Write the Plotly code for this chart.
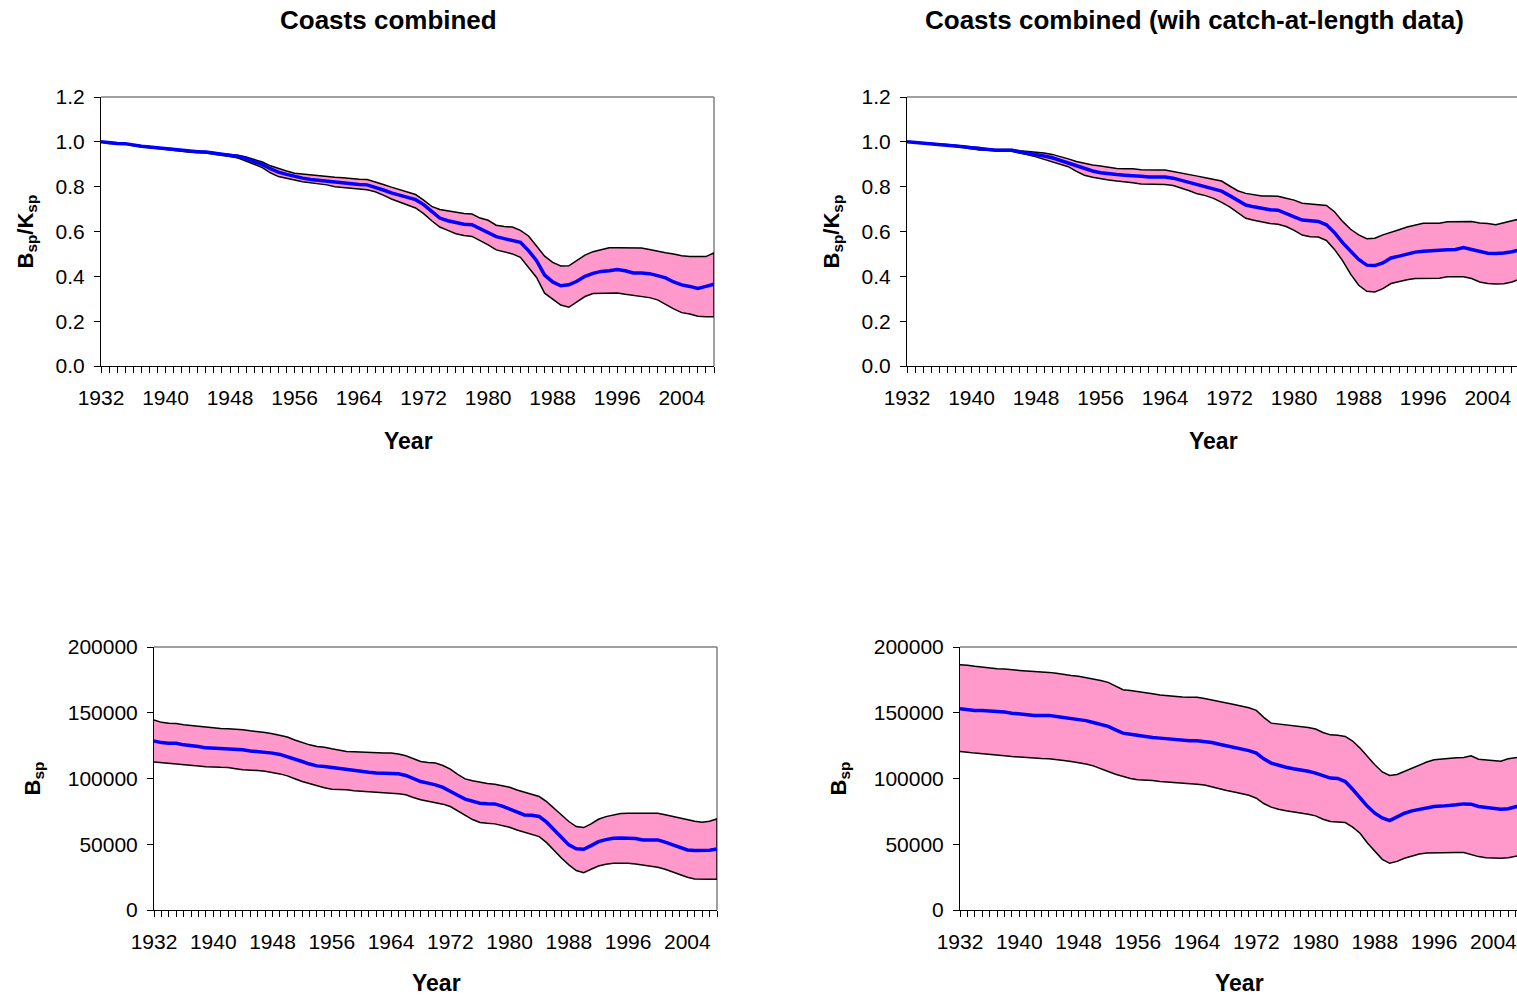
import plotly.graph_objects as go

# Spawning biomass trajectories, 1932-2008: median and confidence band
years = list(range(1932, 2009))

# Relative spawning biomass B_sp/K_sp, coasts combined
rel_med = [1.000, 0.995, 0.993, 0.992, 0.985, 0.980, 0.977, 0.973, 0.970, 0.966,
           0.962, 0.958, 0.956, 0.955, 0.950, 0.943, 0.940, 0.935, 0.925, 0.912,
           0.898, 0.880, 0.865, 0.855, 0.845, 0.838, 0.832, 0.828, 0.825, 0.820,
           0.817, 0.815, 0.810, 0.808, 0.798, 0.785, 0.772, 0.760, 0.752, 0.742,
           0.720, 0.690, 0.660, 0.648, 0.640, 0.632, 0.630, 0.612, 0.595, 0.577,
           0.568, 0.560, 0.552, 0.515, 0.470, 0.405, 0.375, 0.358, 0.362, 0.378,
           0.400, 0.413, 0.422, 0.425, 0.430, 0.425, 0.415, 0.415, 0.412, 0.403,
           0.393, 0.375, 0.362, 0.355, 0.346, 0.355, 0.365]
rel_hi = [1.000, 0.997, 0.995, 0.994, 0.987, 0.982, 0.979, 0.975, 0.972, 0.968,
          0.964, 0.960, 0.960, 0.958, 0.953, 0.947, 0.945, 0.940, 0.932, 0.922,
          0.910, 0.893, 0.880, 0.870, 0.860, 0.856, 0.852, 0.848, 0.845, 0.842,
          0.840, 0.835, 0.833, 0.832, 0.822, 0.810, 0.798, 0.788, 0.778, 0.765,
          0.740, 0.712, 0.698, 0.692, 0.686, 0.680, 0.678, 0.660, 0.650, 0.628,
          0.622, 0.620, 0.605, 0.580, 0.535, 0.490, 0.462, 0.446, 0.447, 0.470,
          0.495, 0.510, 0.520, 0.527, 0.527, 0.527, 0.527, 0.526, 0.520, 0.512,
          0.505, 0.500, 0.492, 0.488, 0.488, 0.488, 0.505]
rel_lo = [1.000, 0.993, 0.991, 0.990, 0.982, 0.977, 0.974, 0.970, 0.967, 0.963,
          0.958, 0.954, 0.951, 0.950, 0.945, 0.938, 0.934, 0.928, 0.915, 0.900,
          0.885, 0.862, 0.845, 0.837, 0.830, 0.822, 0.815, 0.812, 0.808, 0.800,
          0.796, 0.793, 0.790, 0.786, 0.777, 0.762, 0.745, 0.730, 0.718, 0.705,
          0.680, 0.648, 0.620, 0.605, 0.590, 0.582, 0.578, 0.560, 0.540, 0.518,
          0.510, 0.500, 0.485, 0.440, 0.395, 0.325, 0.300, 0.272, 0.262, 0.285,
          0.310, 0.323, 0.326, 0.326, 0.326, 0.320, 0.312, 0.310, 0.305, 0.295,
          0.275, 0.255, 0.238, 0.232, 0.222, 0.220, 0.220]

# Relative spawning biomass, with catch-at-length data
rel_cal_med = [1.000, 0.997, 0.995, 0.994, 0.991, 0.987, 0.983, 0.978, 0.974, 0.970,
               0.965, 0.963, 0.963, 0.962, 0.955, 0.950, 0.944, 0.937, 0.929, 0.917,
               0.903, 0.890, 0.880, 0.870, 0.862, 0.857, 0.854, 0.851, 0.850, 0.846,
               0.843, 0.843, 0.843, 0.838, 0.828, 0.818, 0.810, 0.800, 0.790, 0.780,
               0.760, 0.738, 0.718, 0.710, 0.702, 0.697, 0.695, 0.682, 0.665, 0.651,
               0.647, 0.645, 0.630, 0.595, 0.550, 0.510, 0.475, 0.450, 0.448, 0.460,
               0.482, 0.490, 0.500, 0.508, 0.512, 0.515, 0.518, 0.519, 0.520, 0.528,
               0.520, 0.510, 0.503, 0.502, 0.504, 0.510, 0.518]
rel_cal_hi = [1.000, 0.998, 0.996, 0.995, 0.992, 0.988, 0.985, 0.980, 0.977, 0.975,
              0.968, 0.966, 0.966, 0.966, 0.960, 0.957, 0.954, 0.950, 0.944, 0.935,
              0.924, 0.912, 0.903, 0.897, 0.892, 0.886, 0.881, 0.880, 0.880, 0.876,
              0.874, 0.874, 0.874, 0.868, 0.860, 0.853, 0.847, 0.840, 0.832, 0.825,
              0.803, 0.782, 0.770, 0.763, 0.758, 0.758, 0.757, 0.748, 0.740, 0.726,
              0.722, 0.720, 0.716, 0.688, 0.645, 0.610, 0.585, 0.568, 0.570, 0.585,
              0.598, 0.608, 0.620, 0.630, 0.637, 0.637, 0.637, 0.644, 0.645, 0.645,
              0.645, 0.638, 0.636, 0.630, 0.640, 0.648, 0.656]
rel_cal_lo = [1.000, 0.996, 0.994, 0.993, 0.989, 0.985, 0.980, 0.975, 0.970, 0.964,
              0.962, 0.959, 0.959, 0.958, 0.950, 0.942, 0.933, 0.925, 0.914, 0.900,
              0.889, 0.868, 0.851, 0.842, 0.835, 0.830, 0.825, 0.820, 0.817, 0.812,
              0.810, 0.810, 0.810, 0.805, 0.795, 0.782, 0.768, 0.760, 0.748, 0.730,
              0.710, 0.685, 0.659, 0.650, 0.642, 0.636, 0.632, 0.622, 0.605, 0.584,
              0.577, 0.575, 0.560, 0.520, 0.470, 0.410, 0.360, 0.333, 0.330, 0.345,
              0.368, 0.378, 0.385, 0.390, 0.391, 0.391, 0.392, 0.398, 0.398, 0.398,
              0.390, 0.375, 0.368, 0.366, 0.367, 0.375, 0.388]

# Absolute spawning biomass B_sp, coasts combined
abs_med = [128500, 127300, 126900, 126800, 125600, 125300, 124400, 123300, 123100, 122900,
           122600, 122300, 121800, 121000, 120600, 120000, 119300, 118300, 116700, 114600,
           112900, 111000, 109600, 109200, 108400, 107300, 106600, 106000, 105300, 104700,
           104100, 104100, 104100, 103600, 102300, 100000, 97700, 96500, 95200, 93200,
           90600, 87300, 84300, 82500, 81200, 80800, 80700, 79000, 76900, 74300,
           72300, 72000, 71100, 66800, 60900, 55000, 49500, 46500, 46200, 49000,
           52000, 53500, 54600, 54800, 54600, 54300, 53300, 53200, 53300, 51600,
           49500, 47500, 45700, 45300, 45200, 45500, 46400]
abs_hi = [144500, 142700, 142100, 141800, 140900, 140300, 139600, 138800, 138300, 138100,
          137800, 137500, 137100, 136300, 135800, 135000, 134000, 132900, 131500, 129300,
          127400, 125600, 124400, 123800, 122600, 121600, 120600, 120300, 120000, 119600,
          119300, 119300, 119300, 118700, 117300, 115200, 112900, 112200, 111700, 109900,
          107100, 103200, 99700, 98300, 97000, 96200, 95700, 94700, 93400, 91200,
          89600, 88000, 86300, 82400, 77400, 72000, 67300, 63500, 62700, 65500,
          69000, 71000, 72300, 73300, 73600, 73600, 73600, 73600, 73600, 72400,
          71100, 69800, 68500, 67500, 66800, 67500, 69300]
abs_lo = [112500, 111800, 111200, 110800, 110400, 110000, 109600, 109000, 108600, 108500,
          108400, 107500, 106600, 106300, 106100, 105500, 104600, 103500, 102000, 99800,
          97700, 95800, 94400, 93000, 91900, 91600, 91400, 90700, 90100, 89600,
          89300, 89000, 88800, 88400, 87600, 85600, 83800, 82700, 81700, 80500,
          78700, 75500, 72300, 68800, 66500, 65900, 65500, 64300, 62900, 60800,
          58900, 57500, 55800, 51200, 45700, 39500, 34300, 30000, 28400, 31000,
          33500, 34800, 35500, 35500, 35500, 35000, 34300, 33500, 32500, 31000,
          29200, 27000, 24900, 23600, 23400, 23400, 23400]

# Absolute spawning biomass, with catch-at-length data
abs_cal_med = [153000, 152200, 151800, 151700, 151500, 151000, 150500, 149700, 149000, 148400,
               148000, 148000, 148000, 147200, 146400, 145900, 145200, 144000, 142600, 141200,
               139600, 137000, 134500, 133600, 132700, 131800, 131200, 130700, 130200, 129400,
               128700, 128700, 128700, 128200, 127400, 126100, 124900, 123700, 122600, 121200,
               119300, 115000, 111700, 109900, 108600, 107400, 106600, 105500, 104100, 102000,
               100300, 100000, 97700, 91800, 85000, 78800, 73600, 70000, 68000, 71000,
               73600, 75400, 76600, 77800, 78700, 79000, 79200, 80000, 80700, 80500,
               78700, 78200, 77400, 76600, 77000, 78200, 80000]
abs_cal_hi = [186500, 186200, 185300, 184600, 184000, 183500, 183200, 182500, 182200, 181800,
              181500, 181000, 180700, 180000, 178900, 178300, 177700, 176700, 175600, 174500,
              173100, 170000, 167500, 166900, 166200, 165100, 164500, 163500, 162900, 162300,
              161900, 161800, 161700, 160900, 159900, 158600, 157400, 156300, 155300, 153800,
              151800, 146500, 142100, 141400, 140900, 140200, 139600, 138800, 137600, 135000,
              133200, 132900, 132000, 128500, 123100, 116500, 110400, 105000, 102300, 103000,
              105300, 108000, 110400, 112500, 114200, 114800, 115000, 115800, 116000, 117200,
              114700, 114300, 113700, 113200, 115000, 116000, 116700]
abs_cal_lo = [120600, 120000, 119300, 118600, 118000, 117700, 117300, 116700, 116200, 115800,
              115500, 115200, 115000, 114400, 113700, 113000, 112200, 111000, 109600, 107500,
              105300, 103200, 101500, 100000, 99000, 98700, 98500, 97700, 97000, 96700,
              96400, 96100, 95700, 95000, 93900, 92300, 90900, 89800, 88800, 87200,
              85000, 81000, 78200, 76600, 75400, 74500, 73600, 72800, 71600, 69000,
              67300, 67000, 66500, 63000, 58400, 51000, 44400, 38500, 35500, 37000,
              39300, 41200, 42600, 43300, 43700, 43700, 43700, 43700, 43700, 42000,
              40600, 39800, 39300, 39300, 39800, 40800, 41900]

x_tick_labels = [str(y) for y in range(1932, 2005, 8)]

W, H = 1517, 997
FONT = "Liberation Sans, Arial, sans-serif"
PINK = "#FF99CC"
BLUE = "#0000FF"

# panel geometry in pixels: (left, right, top, bottom, x range end)
panels = [
    dict(l=101, r=714, t=97, b=366, xend=2008, ax="", med=rel_med, hi=rel_hi, lo=rel_lo, rel=True),
    dict(l=907, r=1517, t=97, b=366, xend=1932 + 610 / 8.066, ax="2", med=rel_cal_med, hi=rel_cal_hi, lo=rel_cal_lo, rel=True),
    dict(l=154, r=717, t=647, b=910, xend=2008, ax="3", med=abs_med, hi=abs_hi, lo=abs_lo, rel=False),
    dict(l=960, r=1517, t=647, b=910, xend=1932 + 557 / 7.408, ax="4", med=abs_cal_med, hi=abs_cal_hi, lo=abs_cal_lo, rel=False),
]

fig = go.Figure()
layout = dict(
    width=W, height=H, margin=dict(l=0, r=0, t=0, b=0, pad=0, autoexpand=False),
    paper_bgcolor="white", plot_bgcolor="white", showlegend=False,
    font=dict(family=FONT, size=21, color="black"),
)
shapes = []
annotations = []

for i, p in enumerate(panels):
    xa = "x" + p["ax"]
    ya = "y" + p["ax"]
    band_x = years + years[::-1]
    band_y = p["hi"] + p["lo"][::-1]
    fig.add_trace(go.Scatter(x=band_x, y=band_y, xaxis=xa, yaxis=ya, mode="lines",
                             fill="toself", fillcolor=PINK,
                             line=dict(color="black", width=1.5), hoverinfo="skip"))
    fig.add_trace(go.Scatter(x=years, y=p["med"], xaxis=xa, yaxis=ya, mode="lines",
                             line=dict(color=BLUE, width=3.5)))

    xkey = "xaxis" + p["ax"]
    ykey = "yaxis" + p["ax"]
    layout[xkey] = dict(
        domain=[p["l"] / W, p["r"] / W], anchor=ya, range=[1932, p["xend"]],
        tickmode="array", tickvals=[int(t) for t in x_tick_labels], ticktext=x_tick_labels,
        ticks="outside", ticklen=6, tickcolor="black", tickwidth=1,
        minor=dict(dtick=1, tick0=1932, ticks="outside", ticklen=6, tickcolor="black", tickwidth=1),
        showline=True, linecolor="black", linewidth=1, showgrid=False, zeroline=False,
        ticklabelstandoff=7, ticklabeloverflow="allow", tickfont=dict(size=21), automargin=False,
    )
    if p["rel"]:
        yrange, dtick, fmt = [0, 1.2], 0.2, ".1f"
    else:
        yrange, dtick, fmt = [0, 200000], 50000, "d"
    layout[ykey] = dict(
        domain=[1 - p["b"] / H, 1 - p["t"] / H], anchor=xa, range=yrange,
        tickmode="linear", tick0=0, dtick=dtick, tickformat=fmt,
        ticks="outside", ticklen=6, tickcolor="black", tickwidth=1,
        showline=True, linecolor="black", linewidth=1, showgrid=False, zeroline=False,
        ticklabelstandoff=5, tickfont=dict(size=21), automargin=False,
    )
    # grey plot-area frame on top and right
    shapes.append(dict(type="line", xref=xa + " domain", yref=ya + " domain",
                       x0=0, x1=1, y0=1, y1=1, line=dict(color="#808080", width=1.5), layer="below"))
    if p["r"] < W:
        shapes.append(dict(type="line", xref=xa + " domain", yref=ya + " domain",
                           x0=1, x1=1, y0=0, y1=1, line=dict(color="#808080", width=1.5), layer="below"))

    # axis titles
    cx = (p["l"] + min(p["r"], p["l"] + 613)) / 2
    ty = p["b"] + (75 if p["rel"] else 73)
    annotations.append(dict(text="<b>Year</b>", xref="paper", yref="paper",
                            x=(cx + 1) / W, y=1 - ty / H, showarrow=False,
                            xanchor="center", yanchor="middle", font=dict(size=23)))
    ytitle = "<b>B<sub>sp</sub>/K<sub>sp</sub></b>" if p["rel"] else "<b>B<sub>sp</sub></b>"
    yx = p["l"] - 74 if p["rel"] else p["l"] - 121
    annotations.append(dict(text=ytitle, xref="paper", yref="paper",
                            x=yx / W, y=1 - ((p["t"] + p["b"]) / 2) / H, showarrow=False,
                            textangle=-90, xanchor="center", yanchor="middle", font=dict(size=22)))

annotations.append(dict(text="<b>Coasts combined</b>", xref="paper", yref="paper",
                        x=388 / W, y=1 - 20 / H, showarrow=False, xanchor="center",
                        yanchor="middle", font=dict(size=26)))
annotations.append(dict(text="<b>Coasts combined (wih catch-at-length data)</b>", xref="paper",
                        yref="paper", x=1194 / W, y=1 - 20 / H, showarrow=False,
                        xanchor="center", yanchor="middle", font=dict(size=26)))

layout["shapes"] = shapes
layout["annotations"] = annotations
fig.update_layout(**layout)
fig.write_html("out.html")
